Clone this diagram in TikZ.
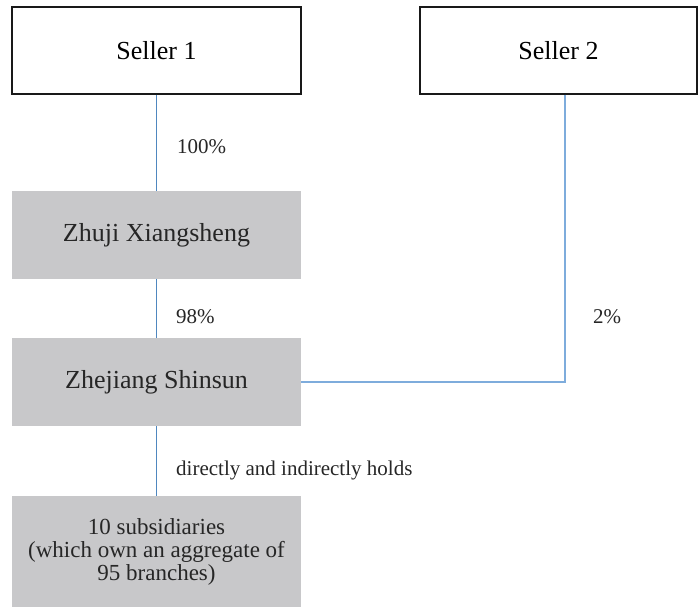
\documentclass[tikz,border=0pt]{standalone}
\usepackage{fontspec}
\setmainfont{Liberation Serif}
\definecolor{boxgray}{HTML}{C8C8CA}
\definecolor{linkdark}{HTML}{4F87BF}
\definecolor{linklight}{HTML}{7EACDC}
\begin{document}
\begin{tikzpicture}[x=1pt,y=-1pt,
  sellerbox/.style={draw=black!90, line width=1.3pt, fill=white, rectangle, minimum height=87pt, inner sep=0pt, font=\fontsize{26}{30}\selectfont},
  graybox/.style={fill=boxgray, draw=none, rectangle, minimum width=289pt, inner sep=0pt, align=center, text=black!85},
  link/.style={line width=1.5pt, draw=linkdark},
  linklt/.style={line width=1.5pt, draw=linklight},
  pct/.style={anchor=west, inner sep=0pt, font=\fontsize{21}{24}\selectfont, text=black!85}]
\useasboundingbox (0,0) rectangle (698,607);
\node[sellerbox, minimum width=289pt] (s1) at (156.5,50.5) {Seller 1};
\node[sellerbox, minimum width=277pt] (s2) at (558.5,50.5) {Seller 2};
\node[graybox, minimum height=88pt, font=\fontsize{26}{30}\selectfont] (zx) at (156.5,235) {Zhuji Xiangsheng};
\node[graybox, minimum height=88pt, font=\fontsize{26}{30}\selectfont] (zs) at (156.5,382) {Zhejiang Shinsun};
\node[graybox, minimum height=111pt, font=\fontsize{23}{23}\selectfont] (sub) at (156.5,551.5) {10 subsidiaries\\(which own an aggregate of\\95 branches)};
\coordinate (corner) at (565,382);
\draw[link] (s1.south) -- (zx.north);
\draw[link] (zx.south) -- (zs.north);
\draw[link] (zs.south) -- (sub.north);
\draw[linklt] (s2.south -| corner) -- (corner) -- (zs.east);
\node[pct] (l100) at (177,147) {100\%};
\node[pct] (l98) at (176,317) {98\%};
\node[pct] (l2) at (593,317) {2\%};
\node[pct] (ldir) at (176,470) {directly and indirectly holds};
\end{tikzpicture}
\end{document}
